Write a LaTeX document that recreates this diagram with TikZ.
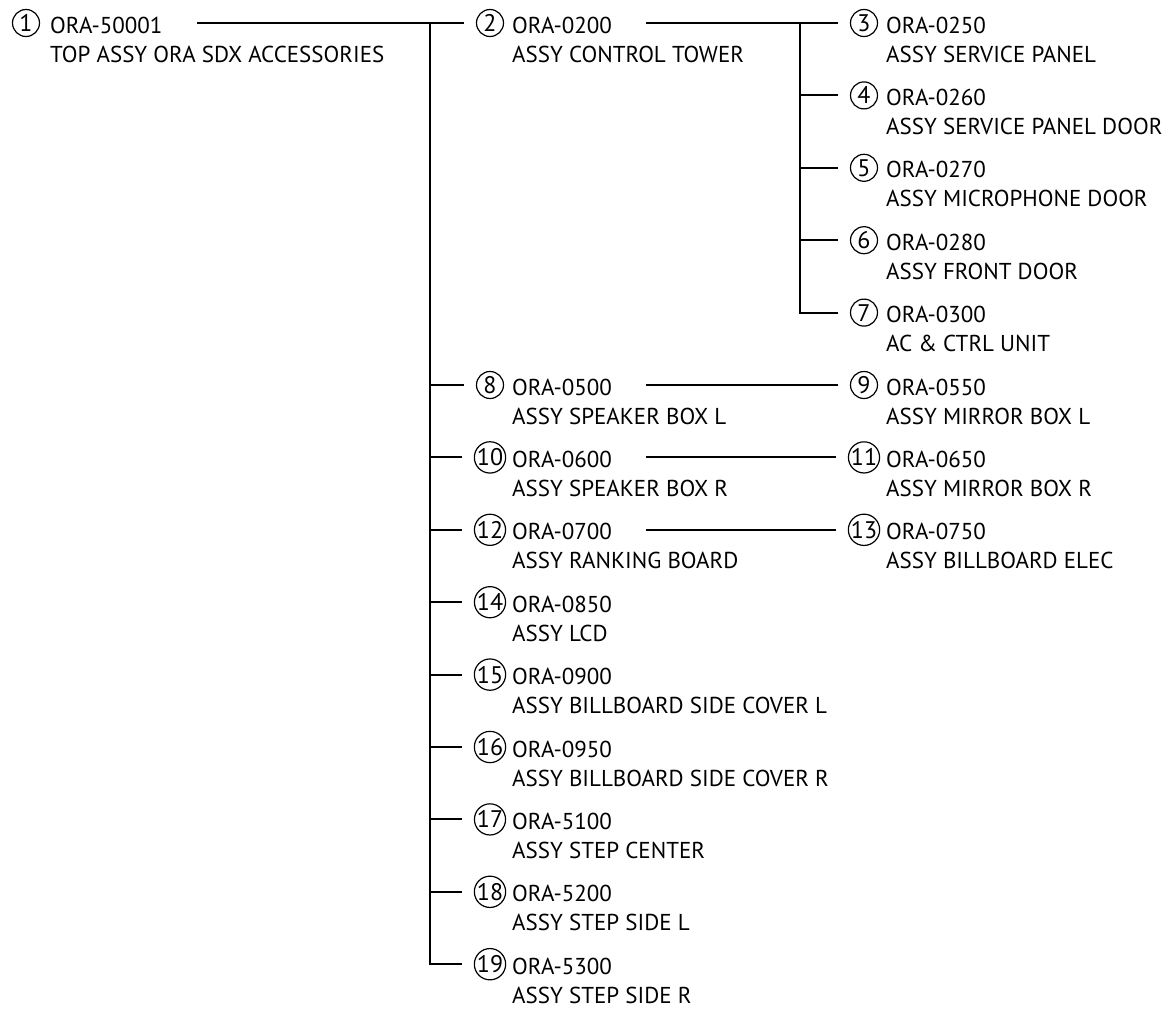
\documentclass[tikz,border=0pt]{standalone}
\usepackage{fontspec}
\setmainfont{PT Sans}
\usetikzlibrary{positioning}

\begin{document}
\begin{tikzpicture}[
    x=1pt, y=-1pt,
    num/.style={circle, draw, line width=1.2pt, minimum size=27pt, inner sep=0pt,
                font=\fontsize{24}{24}\selectfont},
    partbox/.style={anchor=base west, inner sep=0pt, align=left,
                font=\fontsize{23}{29}\selectfont},
    link/.style={line width=2pt, shorten >=12pt},
]
\useasboundingbox (0,0) rectangle (1168,1009);

% level 1 (text anchored on the baseline of its second line)
\node[num] (c1) at (26,23) {1};
\node[partbox] (p1) at (50,62) {ORA-50001\\TOP ASSY ORA SDX ACCESSORIES};

% level 2
\node[num] (c2)  at (490,23)    {2};
\node[partbox] (p2)  at (512,62)    {ORA-0200\\ASSY CONTROL TOWER};
\node[num] (c8)  at (490,385)   {8};
\node[partbox] (p8)  at (512,424)   {ORA-0500\\ASSY SPEAKER BOX L};
\node[num] (c10) at (490,457.4) {10};
\node[partbox] (p10) at (512,496.4) {ORA-0600\\ASSY SPEAKER BOX R};
\node[num] (c12) at (490,529.8) {12};
\node[partbox] (p12) at (512,568.8) {ORA-0700\\ASSY RANKING BOARD};
\node[num] (c14) at (490,602.2) {14};
\node[partbox] (p14) at (512,641.2) {ORA-0850\\ASSY LCD};
\node[num] (c15) at (490,674.6) {15};
\node[partbox] (p15) at (512,713.6) {ORA-0900\\ASSY BILLBOARD SIDE COVER L};
\node[num] (c16) at (490,747)   {16};
\node[partbox] (p16) at (512,786)   {ORA-0950\\ASSY BILLBOARD SIDE COVER R};
\node[num] (c17) at (490,819.4) {17};
\node[partbox] (p17) at (512,858.4) {ORA-5100\\ASSY STEP CENTER};
\node[num] (c18) at (490,891.8) {18};
\node[partbox] (p18) at (512,930.8) {ORA-5200\\ASSY STEP SIDE L};
\node[num] (c19) at (490,964.2) {19};
\node[partbox] (p19) at (512,1003.2) {ORA-5300\\ASSY STEP SIDE R};

% level 3
\node[num] (c3)  at (864,23)    {3};
\node[partbox] (p3)  at (886,62)    {ORA-0250\\ASSY SERVICE PANEL};
\node[num] (c4)  at (864,95.4)  {4};
\node[partbox] (p4)  at (886,134.4) {ORA-0260\\ASSY SERVICE PANEL DOOR};
\node[num] (c5)  at (864,167.8) {5};
\node[partbox] (p5)  at (886,206.8) {ORA-0270\\ASSY MICROPHONE DOOR};
\node[num] (c6)  at (864,240.2) {6};
\node[partbox] (p6)  at (886,279.2) {ORA-0280\\ASSY FRONT DOOR};
\node[num] (c7)  at (864,312.6) {7};
\node[partbox] (p7)  at (886,351.6) {ORA-0300\\AC \& CTRL UNIT};
\node[num] (c9)  at (864,385)   {9};
\node[partbox] (p9)  at (886,424)   {ORA-0550\\ASSY MIRROR BOX L};
\node[num] (c11) at (864,457.4) {11};
\node[partbox] (p11) at (886,496.4) {ORA-0650\\ASSY MIRROR BOX R};
\node[num] (c13) at (864,529.8) {13};
\node[partbox] (p13) at (886,568.8) {ORA-0750\\ASSY BILLBOARD ELEC};

% connector starts and trunks
\coordinate (from1) at (197,23);
\coordinate (from2) at (646,23);
\coordinate (trunk1) at (430,23);
\coordinate (trunk2) at (800,23);

\draw[link] (from1) -- (c2);
\draw[link] (trunk1) |- (c19);
\draw[link] (trunk1 |- c8)  -- (c8);
\draw[link] (trunk1 |- c10) -- (c10);
\draw[link] (trunk1 |- c12) -- (c12);
\draw[link] (trunk1 |- c14) -- (c14);
\draw[link] (trunk1 |- c15) -- (c15);
\draw[link] (trunk1 |- c16) -- (c16);
\draw[link] (trunk1 |- c17) -- (c17);
\draw[link] (trunk1 |- c18) -- (c18);

\draw[link] (from2) -- (c3);
\draw[link] (trunk2) |- (c7);
\draw[link] (trunk2 |- c4) -- (c4);
\draw[link] (trunk2 |- c5) -- (c5);
\draw[link] (trunk2 |- c6) -- (c6);

\draw[link] (from2 |- c9)  -- (c9);
\draw[link] (from2 |- c11) -- (c11);
\draw[link] (from2 |- c13) -- (c13);

\end{tikzpicture}
\end{document}
